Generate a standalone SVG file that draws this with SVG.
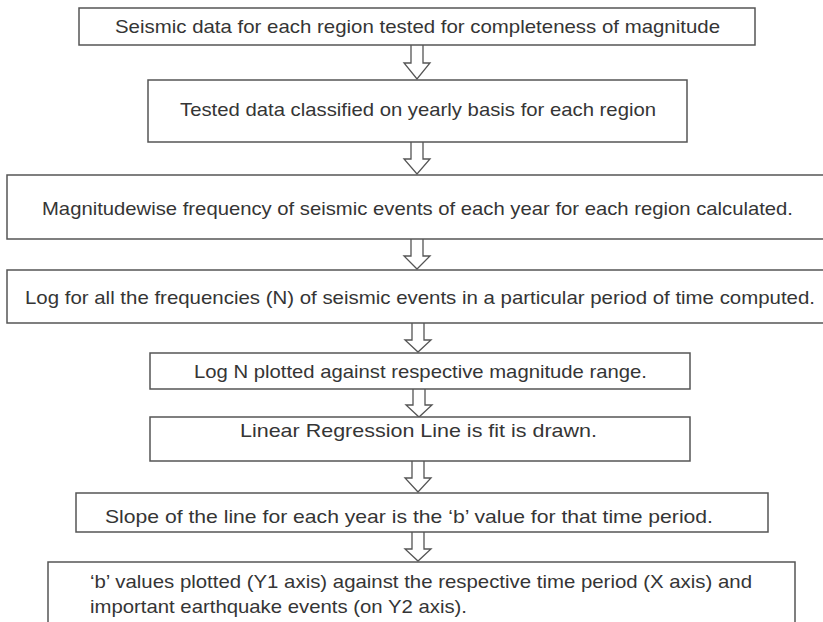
<svg xmlns="http://www.w3.org/2000/svg" width="823" height="622" viewBox="0 0 823 622">
<style>
.box{fill:#fff;stroke:#555;stroke-width:1.5}
.arr{fill:#fff;stroke:#555;stroke-width:1.3;stroke-linejoin:miter}
text{font-family:"Liberation Sans",Arial,sans-serif;font-size:18.5px;fill:#353535}
</style>
<rect width="823" height="622" fill="#fff"/>
<g id="connectors">
<path class="arr" d="M411,45 V63 H404 L417,79 L430,63 H423 V45"/>
<path class="arr" d="M411,142 V159 H404 L417,174 L430,159 H423 V142"/>
<path class="arr" d="M411,239 V256 H404 L417,269 L430,256 H423 V239"/>
<path class="arr" d="M412,323 V340 H405 L418,352 L431,340 H424 V323"/>
<path class="arr" d="M413,389 V405 H406 L419,417 L432,405 H425 V389"/>
<path class="arr" d="M412,461 V478 H405 L418,492 L431,478 H424 V461"/>
<path class="arr" d="M412,532 V549 H405 L418,561 L431,549 H424 V532"/>
</g>
<g id="n1"><rect class="box" x="79" y="8" width="676" height="37"/><text x="115" y="33" textLength="605" lengthAdjust="spacingAndGlyphs">Seismic data for each region tested for completeness of magnitude</text></g>
<g id="n2"><rect class="box" x="148" y="80" width="539" height="62"/><text x="180" y="116" textLength="476" lengthAdjust="spacingAndGlyphs">Tested data classified on yearly basis for each region</text></g>
<g id="n3"><rect class="box" x="7" y="175" width="830" height="64"/><text x="42" y="215" textLength="751" lengthAdjust="spacingAndGlyphs">Magnitudewise frequency of seismic events of each year for each region calculated.</text></g>
<g id="n4"><rect class="box" x="7" y="270" width="830" height="53"/><text x="25" y="304" textLength="790" lengthAdjust="spacingAndGlyphs">Log for all the frequencies (N) of seismic events in a particular period of time computed.</text></g>
<g id="n5"><rect class="box" x="150" y="353" width="540" height="36"/><text x="194" y="378" textLength="453" lengthAdjust="spacingAndGlyphs">Log N plotted against respective magnitude range.</text></g>
<g id="n6"><rect class="box" x="150" y="417" width="540" height="44"/><text x="240" y="437" textLength="357" lengthAdjust="spacingAndGlyphs">Linear Regression Line is fit is drawn.</text></g>
<g id="n7"><rect class="box" x="76" y="493" width="692" height="39"/><text x="105" y="523" textLength="608" lengthAdjust="spacingAndGlyphs">Slope of the line for each year is the ‘b’ value for that time period.</text></g>
<g id="n8"><rect class="box" x="48" y="562" width="747" height="70"/><text x="90" y="588" textLength="662" lengthAdjust="spacingAndGlyphs">‘b’ values plotted (Y1 axis) against the respective time period (X axis) and</text><text x="90" y="613" textLength="377" lengthAdjust="spacingAndGlyphs">important earthquake events (on Y2 axis).</text></g>
</svg>
